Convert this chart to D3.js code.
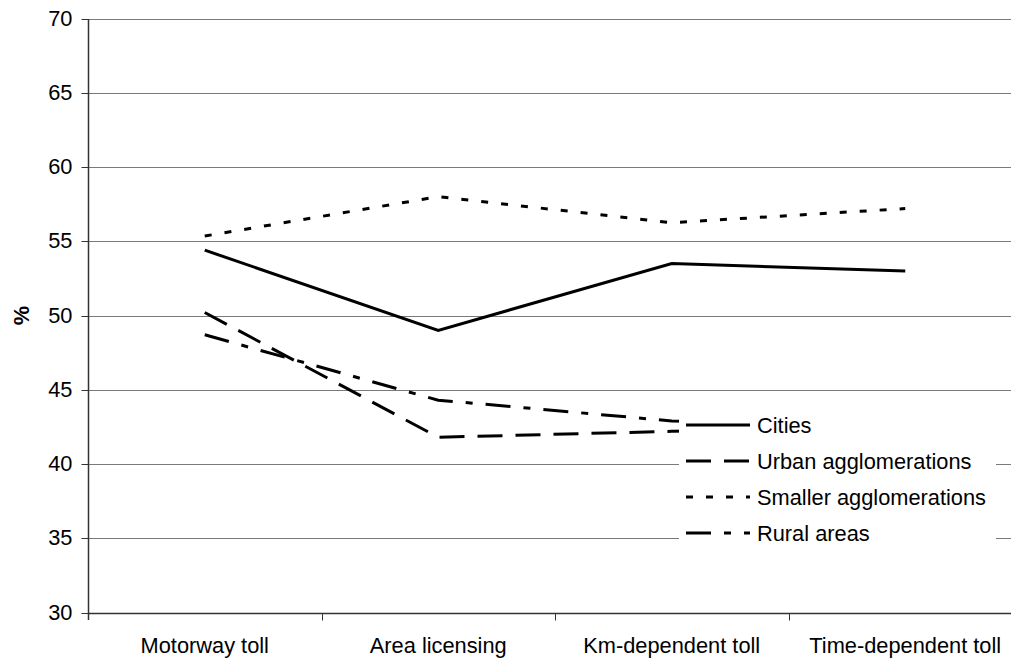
<!DOCTYPE html>
<html>
<head>
<meta charset="utf-8">
<script src="https://cdn.jsdelivr.net/npm/d3@7/dist/d3.min.js"></script>
<style>
html,body{margin:0;padding:0;background:#fff;}
svg{display:block;font-family:"Liberation Sans",Arial,sans-serif;}
</style>
</head>
<body>
<svg id="chart" width="1011" height="659"></svg>
<script>
const categories = ["Motorway toll", "Area licensing", "Km-dependent toll", "Time-dependent toll"];
const seriesNames = ["Cities", "Urban agglomerations", "Smaller agglomerations", "Rural areas"];
const cities = [54.4, 49.0, 53.5, 53.0];
const urban = [50.2, 41.8, 42.2, 42.4];
const smaller = [55.35, 58.0, 56.25, 57.2];
const rural = [48.7, 44.3, 42.9, 42.6];
const yTicks = [30, 35, 40, 45, 50, 55, 60, 65, 70];
const dashes = [null, "25,13", "7,13", "25,13,7,13"];

const seriesData = [cities, urban, smaller, rural];

(function(){
const svg = d3.select("#chart");
const pLeft = 88, pRight = 1022, pTop = 18.5, pBottom = 612.5;
const fontSize = "21.8px";

const x = d3.scalePoint().domain(categories).range([pLeft, pRight]).padding(0.5);
const y = d3.scaleLinear().domain([30, 70]).range([pBottom, pTop]);

// gridlines
svg.append("g").selectAll("line").data(yTicks.filter(d => d !== 30)).join("line")
  .attr("x1", pLeft).attr("x2", 1011)
  .attr("y1", d => Math.round(y(d)) + 0.5).attr("y2", d => Math.round(y(d)) + 0.5)
  .attr("stroke", "#7a7a7a").attr("stroke-width", 1);

// y axis
const yAxis = d3.axisLeft(y).tickValues(yTicks).tickSize(7).tickPadding(10);
const gy = svg.append("g").attr("transform", `translate(${pLeft + 0.5},0)`).call(yAxis);
gy.select(".domain").remove();
gy.selectAll(".tick").attr("transform", d => `translate(0,${Math.round(y(d)) + 0.5})`);
gy.selectAll(".tick line").attr("stroke", "#333");
gy.selectAll(".tick text").attr("font-size", fontSize).attr("font-family", "Liberation Sans, Arial, sans-serif").attr("fill", "#000").attr("x", -16);
svg.append("line").attr("x1", pLeft + 0.5).attr("x2", pLeft + 0.5).attr("y1", Math.round(pTop)).attr("y2", 620)
  .attr("stroke", "#333").attr("stroke-width", 1.5);

// x axis
const xb = d3.scaleBand().domain(categories).range([pLeft, pRight]);
const gx = svg.append("g").attr("transform", `translate(0,${Math.round(pBottom) + 0.5})`);
gx.append("line").attr("x1", pLeft).attr("x2", 1011).attr("y1", 0).attr("y2", 0).attr("stroke", "#333").attr("stroke-width", 1.5);
gx.selectAll(".tk").data(categories.slice(1)).join("line").attr("class", "tk")
  .attr("x1", d => Math.round(xb(d)) + 0.5).attr("x2", d => Math.round(xb(d)) + 0.5)
  .attr("y1", 0).attr("y2", 7).attr("stroke", "#333");
gx.selectAll("text").data(categories).join("text")
  .attr("x", d => x(d)).attr("y", 39).attr("text-anchor", "middle")
  .attr("font-size", fontSize).attr("fill", "#000").text(d => d);

// y label
svg.append("text").attr("transform", `translate(29,${(pTop + pBottom) / 2}) rotate(-90)`)
  .attr("text-anchor", "middle").attr("font-size", fontSize).attr("font-weight", "bold").text("%");

// lines
const line = d3.line().x((d, i) => x(categories[i])).y(d => y(d)).defined(d => d != null);
seriesData.forEach((s, i) => {
  svg.append("path").datum(s).attr("d", line).attr("fill", "none")
    .attr("stroke", "#000").attr("stroke-width", 3)
    .attr("stroke-dasharray", dashes[i]).attr("stroke-linejoin", "miter");
});

// legend
const lg = svg.append("g");
lg.append("rect").attr("x", 679).attr("y", 404).attr("width", 317).attr("height", 148).attr("fill", "#fff");
const rowY = [425, 461, 497, 533];
seriesNames.forEach((n, i) => {
  lg.append("line").attr("x1", 686).attr("x2", 750).attr("y1", rowY[i]).attr("y2", rowY[i])
    .attr("stroke", "#000").attr("stroke-width", 3).attr("stroke-dasharray", dashes[i]);
  lg.append("text").attr("x", 757).attr("y", rowY[i]).attr("dy", "0.36em")
    .attr("font-size", fontSize).attr("fill", "#000").text(n);
});
})();
</script>
</body>
</html>
